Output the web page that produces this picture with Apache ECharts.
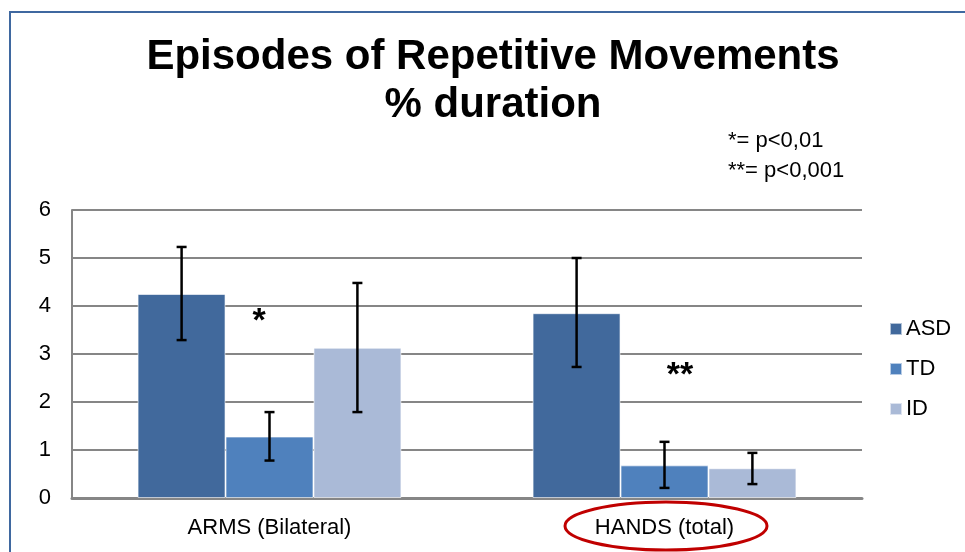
<!DOCTYPE html>
<html>
<head>
<meta charset="utf-8">
<script src="https://cdn.jsdelivr.net/npm/echarts@6/dist/echarts.min.js"></script>
<style>
  html, body { margin: 0; padding: 0; background: #fff; }
  #chart { width: 965px; height: 552px; }
</style>
</head>
<body>
<div id="chart"></div>
<script>
// data
const categories = ["ARMS (Bilateral)", "HANDS (total)"];
const seriesNames = ["ASD", "TD", "ID"];
const asd = [4.25, 3.85];
const td = [1.28, 0.68];
const id = [3.13, 0.62];
const asdErr = [[3.29, 5.23], [2.73, 5.0]];
const tdErr = [[0.78, 1.79], [0.21, 1.17]];
const idErr = [[1.79, 4.48], [0.29, 0.94]];
const yTicks = [0, 1, 2, 3, 4, 5, 6];
const colors = ["#41699c", "#4f81bd", "#aabad7"];

const font = "Liberation Sans, Arial, sans-serif";
const chart = echarts.init(document.getElementById("chart"));

// error bars drawn as custom series, shifted to their bar slot
function errSeries(errs, slot) {
  return {
    type: "custom",
    z: 10,
    silent: true,
    data: errs.map((e, i) => [i, e[0], e[1]]),
    renderItem: function (params, api) {
      const lo = api.coord([api.value(0), api.value(1)]);
      const hi = api.coord([api.value(0), api.value(2)]);
      const bandW = api.size([1, 0])[0];
      const barW = bandW * 0.6676 / 3;
      const x = lo[0] + (slot - 1) * barW;
      const cap = 5;
      const st = { stroke: "#000", lineWidth: 2.5 };
      return {
        type: "group",
        children: [
          { type: "line", shape: { x1: x, y1: lo[1], x2: x, y2: hi[1] }, style: st },
          { type: "line", shape: { x1: x - cap, y1: lo[1], x2: x + cap, y2: lo[1] }, style: st },
          { type: "line", shape: { x1: x - cap, y1: hi[1], x2: x + cap, y2: hi[1] }, style: st }
        ]
      };
    }
  };
}

function barSeries(name, data, color) {
  return {
    name: name,
    type: "bar",
    data: data,
    barGap: "0%",
    barCategoryGap: "33.2%",
    itemStyle: { color: color, borderColor: "rgba(255,255,255,0.6)", borderWidth: 1 }
  };
}

chart.setOption({
  animation: false,
  textStyle: { fontFamily: font },
  grid: { left: 72, right: 103, top: 210, bottom: 54 },
  legend: {
    orient: "vertical",
    left: 884,
    top: 313,
    itemGap: 18,
    itemWidth: 12,
    itemHeight: 12,
    icon: "rect",
    data: seriesNames,
    textStyle: { fontSize: 22, color: "#000", fontFamily: font, padding: [0, 0, 0, -1] }
  },
  xAxis: {
    type: "category",
    data: categories,
    axisLine: { lineStyle: { color: "#868686", width: 3 } },
    axisTick: { show: false },
    axisLabel: { fontSize: 22, color: "#000", margin: 19, fontFamily: font }
  },
  yAxis: {
    type: "value",
    min: yTicks[0],
    max: yTicks[yTicks.length - 1],
    interval: 1,
    axisLine: { show: true, lineStyle: { color: "#868686", width: 2 } },
    axisTick: { show: false },
    splitLine: { lineStyle: { color: "#868686", width: 2 } },
    axisLabel: { fontSize: 22, color: "#000", margin: 21, fontFamily: font }
  },
  series: [
    barSeries("ASD", asd, colors[0]),
    barSeries("TD", td, colors[1]),
    barSeries("ID", id, colors[2]),
    errSeries(asdErr, 0),
    errSeries(tdErr, 1),
    errSeries(idErr, 2)
  ],
  graphic: [
    // outer frame
    { type: "rect", shape: { x: 10, y: 12, width: 980, height: 560 },
      style: { fill: null, stroke: "#3f68a0", lineWidth: 2 }, z: 0 },
    { type: "text", x: 493, y: 33,
      style: { text: "Episodes of Repetitive Movements\n% duration", fill: "#000",
        font: "bold 42px " + font, textAlign: "center", lineHeight: 48 } },
    { type: "text", x: 728, y: 126,
      style: { text: "*= p<0,01\n**= p<0,001", fill: "#000", font: "22px " + font, lineHeight: 30 } },
    { type: "text", x: 259, y: 305,
      style: { text: "*", fill: "#000", font: "bold 34px " + font, textAlign: "center" } },
    { type: "text", x: 680, y: 359,
      style: { text: "**", fill: "#000", font: "bold 34px " + font, textAlign: "center" } },
    // red ellipse around the HANDS label
    { type: "ellipse", shape: { cx: 666, cy: 526, rx: 101, ry: 24 },
      style: { fill: null, stroke: "#c00000", lineWidth: 3 }, z: 20 }
  ]
});
</script>
</body>
</html>
